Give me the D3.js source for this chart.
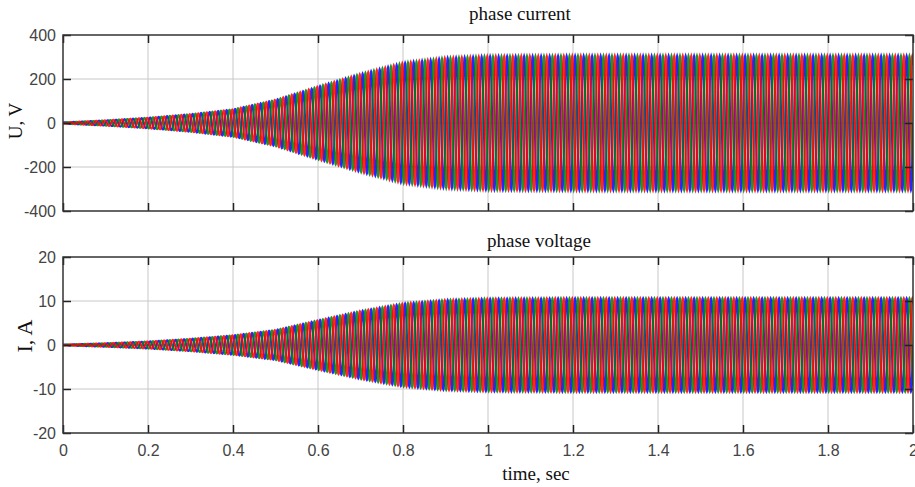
<!DOCTYPE html>
<html>
<head>
<meta charset="utf-8">
<script src="https://cdn.jsdelivr.net/npm/d3@7"></script>
<style>
  body { margin: 0; background: #fff; }
  .tick text { font-family: "Liberation Sans", Arial, sans-serif; font-size: 16px; fill: #444; }
  .ttl { font-family: "Liberation Serif", "Times New Roman", serif; fill: #111; }
</style>
</head>
<body>
<script>
// values
var xTicks = [0, 0.2, 0.4, 0.6, 0.8, 1, 1.2, 1.4, 1.6, 1.8, 2];
var uTicks = [-400, -200, 0, 200, 400];
var iTicks = [-20, -10, 0, 10, 20];

// envelope (peak amplitude) of the phase signals vs time
var envTime = [0, 0.1, 0.2, 0.3, 0.4, 0.5, 0.6, 0.7, 0.8, 0.9, 1.0, 1.2, 2.0];
var envU    = [3, 12, 24, 40, 62, 105, 165, 222, 272, 295, 303, 305, 305];
var envI    = [0.1, 0.4, 0.8, 1.4, 2.2, 3.4, 5.6, 7.7, 9.4, 10.2, 10.5, 10.6, 10.6];

var freq = 50;            // Hz, supply frequency
var phaseShift = [0, -2 * Math.PI / 3, 2 * Math.PI / 3];
var phaseColors = ["#0000ff", "#008000", "#ff0000"];

var W = 915, H = 487;
var left = 63, right = 913;

var svg = d3.select("body").append("svg")
    .attr("width", W)
    .attr("height", H);

var xScale = d3.scaleLinear().domain([0, 2]).range([left, right]);

// time samples
var tSamples = d3.range(0, 2.0001, 1 / (freq * 48));

function panel(top, bottom, ticks, env, yLabel, labelSize, labelY, title, titleX, titleY, id) {
  var yScale = d3.scaleLinear().domain([ticks[0], ticks[ticks.length - 1]]).range([bottom, top]);
  var envScale = d3.scaleLinear().domain(envTime).range(env);

  var g = svg.append("g");

  // grid
  g.append("g").selectAll("line").data(xTicks.slice(1, -1)).enter().append("line")
    .attr("x1", function(d) { return xScale(d); }).attr("x2", function(d) { return xScale(d); })
    .attr("y1", top).attr("y2", bottom)
    .style("stroke", "#c8c8c8").style("stroke-width", 1);
  g.append("g").selectAll("line").data(ticks.slice(1, -1)).enter().append("line")
    .attr("y1", function(d) { return yScale(d); }).attr("y2", function(d) { return yScale(d); })
    .attr("x1", left).attr("x2", right)
    .style("stroke", "#c8c8c8").style("stroke-width", 1);

  svg.append("clipPath").attr("id", id)
    .append("rect").attr("x", left).attr("y", top).attr("width", right - left).attr("height", bottom - top);

  var line = d3.line()
    .x(function(d) { return xScale(d[0]); })
    .y(function(d) { return yScale(d[1]); });

  var waves = g.append("g").attr("clip-path", "url(#" + id + ")");
  phaseShift.forEach(function(ph, k) {
    var pts = tSamples.map(function(t) {
      return [t, envScale(t) * Math.sin(2 * Math.PI * freq * t + ph)];
    });
    waves.append("path")
      .datum(pts)
      .attr("d", line)
      .style("fill", "none")
      .style("stroke", phaseColors[k])
      .style("stroke-width", 2.1)
      .style("opacity", 0.85);
  });

  // axes with inward ticks
  var yAxis = d3.axisLeft(yScale).tickValues(ticks).tickSizeInner(-8).tickSizeOuter(0).tickPadding(7)
    .tickFormat(function(d) { return String(d); });
  var ya = g.append("g").attr("transform", "translate(" + left + ",0)").call(yAxis);
  var yr = g.append("g").attr("transform", "translate(" + right + ",0)")
    .call(d3.axisRight(yScale).tickValues(ticks).tickSizeInner(-8).tickSizeOuter(0).tickFormat(""));
  var xt = g.append("g").attr("transform", "translate(0," + top + ")")
    .call(d3.axisTop(xScale).tickValues(xTicks).tickSizeInner(-8).tickSizeOuter(0).tickFormat(""));
  var xb = d3.axisBottom(xScale).tickValues(xTicks).tickSizeInner(-8).tickSizeOuter(0).tickPadding(12)
    .tickFormat(function(d) { return String(d); });
  var xa = g.append("g").attr("transform", "translate(0," + bottom + ")").call(xb);
  if (!title.showX) xa.selectAll("text").remove();

  [ya, yr, xt, xa].forEach(function(a) {
    a.select(".domain").remove();
    a.selectAll(".tick line").style("stroke", "#222").style("stroke-width", 1.5);
  });

  // frame
  g.append("rect")
    .attr("x", left).attr("y", top).attr("width", right - left).attr("height", bottom - top)
    .style("fill", "none").style("stroke", "#333").style("stroke-width", 1.5);

  // labels
  g.append("text").attr("class", "ttl")
    .attr("transform", "translate(" + (labelSize > 20 ? 32 : 22) + "," + labelY + ") rotate(-90)")
    .style("text-anchor", "middle")
    .style("font-size", labelSize + "px")
    .text(yLabel);

  g.append("text").attr("class", "ttl")
    .attr("x", titleX).attr("y", titleY)
    .style("text-anchor", "middle")
    .style("font-size", "19px")
    .text(title.text);
}

panel(35, 211, uTicks, envU, "U, V", 19, 121, { text: "phase current", showX: false }, 520, 20, "clipU");
panel(257, 433, iTicks, envI, "I, A", 22, 336, { text: "phase voltage", showX: true }, 539, 247, "clipI");

svg.append("text").attr("class", "ttl")
  .attr("x", 536).attr("y", 480)
  .style("text-anchor", "middle")
  .style("font-size", "19px")
  .text("time, sec");
</script>
</body>
</html>
